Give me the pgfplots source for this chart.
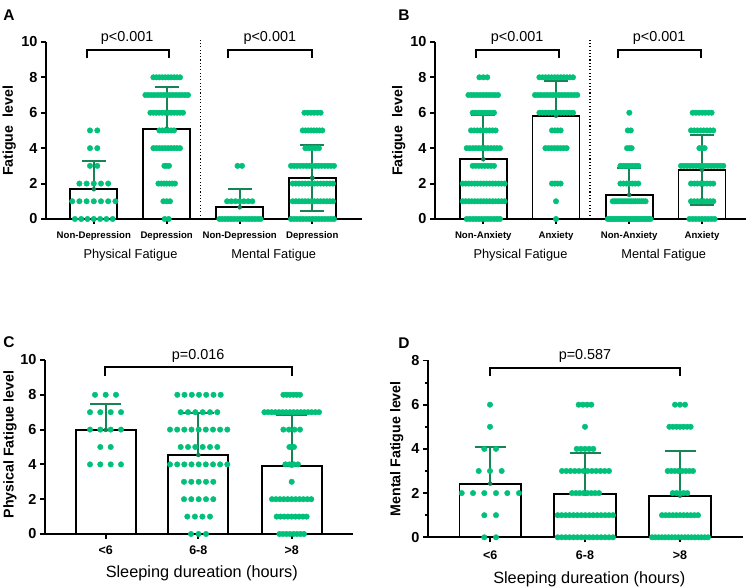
\documentclass[border=0pt]{standalone}
\usepackage{fontspec}
\setmainfont{Liberation Sans}
\usepackage{pgfplots}
\pgfplotsset{compat=1.18}
\definecolor{dotcol}{RGB}{0,192,122}
\definecolor{errcol}{RGB}{24,132,86}
\pgfplotsset{
  panel/.style={scale only axis, axis lines=left,
    axis line style={-, line width=1.9pt, black},
    tick style={line width=1.9pt, black}, tick align=outside,
    major tick length=5pt, minor tick length=3pt,
    ymin=0, clip=false,
    /pgf/number format/assume math mode=true,
    yticklabel style={font=\bfseries\fontsize{14.5}{16}\selectfont},
    xticklabel style={anchor=base}},
  dots/.style={dotcol, only marks, mark=*, mark size=2.75pt, mark options={draw=none, fill=dotcol}},
  bars/.style={ybar, bar shift=0pt, fill=white, draw=black, line width=1.9pt},
  bracket/.style={black, line width=1.8pt, mark=none, line join=miter},
  sep/.style={black, line width=1.1pt, dash pattern=on 1.1pt off 2.2pt, mark=none},
  errA/.style={errcol, only marks, mark=none, error bars/.cd, y dir=#1, y explicit,
    error bar style={errcol, line width=1.8pt},
    error mark options={errcol, line width=1.8pt, mark size=12pt, rotate=90}},
  errC/.style={errcol, only marks, mark=none, error bars/.cd, y dir=#1, y explicit,
    error bar style={errcol, line width=1.8pt},
    error mark options={errcol, line width=1.8pt, mark size=15.5pt, rotate=90}},
}
\begin{document}
\begin{tikzpicture}[x=1pt,y=1pt]
\useasboundingbox (0,0) rectangle (753,588);
% ================= Panel A =================
\begin{axis}[panel, at={(46pt,369pt)}, anchor=south west, width=316pt, height=177.1pt,
  xmin=46, xmax=362, ymax=10, ytick={0,2,...,10},
  xtick={93.8,166.7,239.7,312.3},
  xticklabels={Non-Depression,Depression,Non-Depression,Depression},
  xticklabel style={font=\bfseries\fontsize{9.6}{11}\selectfont, yshift=-14.3pt}]
\addplot[bars, bar width=47] coordinates {(93.8,1.68)(166.7,5.1)(239.7,0.66)(312.3,2.32)};
\addplot[errA=plus] coordinates {(93.8,1.68) += (0,1.59) (166.7,5.1) += (0,2.37) (239.7,0.66) += (0,1.02) (312.3,2.32) += (0,1.88)};
\addplot[errA=minus] coordinates {(312.3,2.32) -= (0,1.88)};
\addplot[dots] coordinates {
% Non-Depression physical
(90,5)(97.3,5)(90,4)(97.3,4)(90,3)(97.3,3)
(79.4,2)(86.6,2)(93.8,2)(101.0,2)(108.2,2)
(72.2,1)(79.4,1)(86.6,1)(93.8,1)(101.0,1)(108.2,1)(115.4,1)
(74.9,0)(81.2,0)(87.5,0)(93.8,0)(100.1,0)(106.4,0)(112.7,0)
% Depression physical
(153.4,8)(156.4,8)(159.3,8)(162.3,8)(165.2,8)(168.2,8)(171.1,8)(174.1,8)(177.0,8)(180.0,8)
(145.4,7)(148.4,7)(151.5,7)(154.5,7)(157.6,7)(160.6,7)(163.7,7)(166.7,7)(169.7,7)(172.8,7)(175.8,7)(178.9,7)(181.9,7)(185.0,7)(188.0,7)
(150.4,6)(153.4,6)(156.3,6)(159.3,6)(162.3,6)(165.2,6)(168.2,6)(171.1,6)(174.1,6)(177.1,6)(180.0,6)(183.0,6)
(159.4,5)(162.3,5)(165.2,5)(168.2,5)(171.1,5)(174.0,5)
(153.4,4)(156.4,4)(159.3,4)(162.3,4)(165.2,4)(168.2,4)(171.1,4)(174.1,4)(177.0,4)(180.0,4)
(164.4,3)(166.7,3)(169.0,3)
(158.4,2)(161.2,2)(163.9,2)(166.7,2)(169.5,2)(172.2,2)(175.0,2)
(163.4,1)(166.7,1)(170.0,1)
(164.7,0)(168.7,0)
% Non-Depression mental
(237.5,3)(242,3)
(227.1,1)(231.3,1)(235.5,1)(239.7,1)(243.9,1)(248.1,1)(252.3,1)
(219.4,0)(222.3,0)(225.3,0)(228.2,0)(231.2,0)(234.1,0)(237.1,0)(240.0,0)(242.9,0)(245.9,0)(248.8,0)(251.8,0)(254.7,0)(257.7,0)(260.6,0)
% Depression mental
(304.4,6)(307.6,6)(310.9,6)(314.1,6)(317.4,6)(320.6,6)
(302.7,5)(305.5,5)(308.3,5)(311.1,5)(313.9,5)(316.7,5)(319.5,5)(322.3,5)
(305.4,4)(308.8,4)(312.2,4)(315.6,4)(319.0,4)
(291.0,3)(294.1,3)(297.1,3)(300.2,3)(303.3,3)(306.4,3)(309.4,3)(312.5,3)(315.6,3)(318.6,3)(321.7,3)(324.8,3)(327.9,3)(330.9,3)(334.0,3)
(292.7,2)(295.8,2)(298.9,2)(302.0,2)(305.1,2)(308.2,2)(311.3,2)(314.4,2)(317.5,2)(320.6,2)(323.7,2)(326.8,2)(329.9,2)(333.0,2)
(292.7,1)(295.8,1)(298.9,1)(302.0,1)(305.1,1)(308.2,1)(311.3,1)(314.4,1)(317.5,1)(320.6,1)(323.7,1)(326.8,1)(329.9,1)(333.0,1)
(291.0,0)(294.1,0)(297.1,0)(300.2,0)(303.3,0)(306.4,0)(309.4,0)(312.5,0)(315.6,0)(318.6,0)(321.7,0)(324.8,0)(327.9,0)(330.9,0)(334.0,0)
};
\addplot[sep] coordinates {(200.7,0)(200.7,10.1)};
\addplot[bracket] coordinates {(86.7,9.07)(86.7,9.54)(169.3,9.54)(169.3,9.07)};
\addplot[bracket] coordinates {(228.3,9.07)(228.3,9.54)(311.7,9.54)(311.7,9.07)};
\end{axis}
% ================= Panel B =================
\begin{axis}[panel, at={(435pt,369pt)}, anchor=south west, width=311pt, height=177.1pt,
  xmin=435, xmax=746, ymax=10, ytick={0,2,...,10},
  xtick={483.3,556,629.2,702},
  xticklabels={Non-Anxiety,Anxiety,Non-Anxiety,Anxiety},
  xticklabel style={font=\bfseries\fontsize{9.6}{11}\selectfont, yshift=-14.3pt}]
\addplot[bars, bar width=47] coordinates {(483.3,3.37)(556,5.83)(629.2,1.36)(702,2.78)};
\addplot[errA=plus] coordinates {(483.3,3.37) += (0,2.47) (556,5.83) += (0,1.98) (629.2,1.36) += (0,1.5) (702,2.78) += (0,1.97)};
\addplot[errA=minus] coordinates {(702,2.78) -= (0,1.97)};
\addplot[dots] coordinates {
% Non-Anxiety physical
(479.4,8)(483.3,8)(487.3,8)
(468.4,7)(471.4,7)(474.3,7)(477.3,7)(480.2,7)(483.2,7)(486.2,7)(489.1,7)(492.1,7)(495.0,7)(498.0,7)
(472.7,6)(475.7,6)(478.8,6)(481.8,6)(484.9,6)(487.9,6)(491.0,6)(494.0,6)
(471.0,5)(474.1,5)(477.2,5)(480.2,5)(483.3,5)(486.4,5)(489.5,5)(492.5,5)(495.6,5)
(466.7,4)(469.7,4)(472.8,4)(475.8,4)(478.8,4)(481.8,4)(484.9,4)(487.9,4)(490.9,4)(494.0,4)(497.0,4)(500.0,4)
(472.7,3)(475.7,3)(478.8,3)(481.8,3)(484.9,3)(487.9,3)(491.0,3)(494.0,3)
(462.7,2)(465.7,2)(468.7,2)(471.7,2)(474.7,2)(477.7,2)(480.7,2)(483.7,2)(486.6,2)(489.6,2)(492.6,2)(495.6,2)(498.6,2)(501.6,2)(504.6,2)
(462.7,1)(465.7,1)(468.7,1)(471.7,1)(474.7,1)(477.7,1)(480.7,1)(483.7,1)(486.6,1)(489.6,1)(492.6,1)(495.6,1)(498.6,1)(501.6,1)(504.6,1)
(466.7,0)(469.7,0)(472.8,0)(475.8,0)(478.8,0)(481.8,0)(484.9,0)(487.9,0)(490.9,0)(494.0,0)(497.0,0)(500.0,0)
% Anxiety physical
(539.4,8)(542.5,8)(545.5,8)(548.6,8)(551.6,8)(554.7,8)(557.7,8)(560.8,8)(563.8,8)(566.9,8)(569.9,8)(573.0,8)
(535.0,7)(538.0,7)(541.0,7)(544.1,7)(547.1,7)(550.1,7)(553.1,7)(556.2,7)(559.2,7)(562.2,7)(565.2,7)(568.2,7)(571.3,7)(574.3,7)(577.3,7)
(539.4,6)(542.5,6)(545.5,6)(548.6,6)(551.6,6)(554.7,6)(557.7,6)(560.8,6)(563.8,6)(566.9,6)(569.9,6)(573.0,6)
(552.0,5)(554.9,5)(557.7,5)(560.6,5)
(545.4,4)(548.4,4)(551.5,4)(554.5,4)(557.5,4)(560.5,4)(563.6,4)(566.6,4)
(552.0,2)(554.9,2)(557.7,2)(560.6,2)
(556,1)(556,0)
% Non-Anxiety mental
(629.3,6)(627.8,5)(630.8,5)(627,4)(629.3,4)(631.6,4)
(620.4,3)(623.4,3)(626.4,3)(629.4,3)(632.3,3)(635.3,3)(638.3,3)
(620.4,2)(623.4,2)(626.4,2)(629.4,2)(632.3,2)(635.3,2)(638.3,2)
(612.7,1)(614.8,1)(616.8,1)(618.9,1)(620.9,1)(623.0,1)(625.0,1)(627.1,1)(629.2,1)(631.2,1)(633.3,1)(635.3,1)(637.4,1)(639.4,1)(641.5,1)(643.5,1)(645.6,1)
(607.7,0)(609.7,0)(611.8,0)(613.8,0)(615.9,0)(617.9,0)(620.0,0)(622.0,0)(624.0,0)(626.1,0)(628.1,0)(630.2,0)(632.2,0)(634.3,0)(636.3,0)(638.3,0)(640.4,0)(642.4,0)(644.5,0)(646.5,0)(648.6,0)(650.6,0)
% Anxiety mental
(692.7,6)(695.9,6)(699.0,6)(702.2,6)(705.3,6)(708.5,6)(711.6,6)
(691.0,5)(694.2,5)(697.4,5)(700.6,5)(703.7,5)(706.9,5)(710.1,5)(713.3,5)
(699.4,4)(702,4)(704.6,4)
(681.0,3)(684.0,3)(687.0,3)(690.1,3)(693.1,3)(696.1,3)(699.1,3)(702.2,3)(705.2,3)(708.2,3)(711.2,3)(714.2,3)(717.3,3)(720.3,3)(723.3,3)
(691.0,2)(694.2,2)(697.4,2)(700.6,2)(703.7,2)(706.9,2)(710.1,2)(713.3,2)
(691.0,1)(694.2,1)(697.4,1)(700.6,1)(703.7,1)(706.9,1)(710.1,1)(713.3,1)
(689.4,0)(692.6,0)(695.7,0)(698.9,0)(702.0,0)(705.2,0)(708.3,0)(711.5,0)(714.6,0)
};
\addplot[sep] coordinates {(590,0)(590,10.1)};
\addplot[bracket] coordinates {(476,9.07)(476,9.54)(559.3,9.54)(559.3,9.07)};
\addplot[bracket] coordinates {(617.7,9.07)(617.7,9.54)(701,9.54)(701,9.07)};
\end{axis}
% ================= Panel C =================
\begin{axis}[panel, at={(45pt,54pt)}, anchor=south west, width=308pt, height=174pt,
  xmin=45, xmax=353, ymax=10, ytick={0,2,...,10},
  xtick={105.8,198.3,291.7}, xticklabels={<6,6-8,>8},
  xticklabel style={font=\bfseries\fontsize{12.5}{14}\selectfont, yshift=-15.7pt}]
\addplot[bars, bar width=60] coordinates {(105.8,5.98)(198.3,4.54)(291.7,3.93)};
\addplot[errC=plus] coordinates {(105.8,5.98) += (0,1.49) (198.3,4.54) += (0,2.43) (291.7,3.93) += (0,2.91)};
\addplot[dots] coordinates {
% <6
(95,8)(105.7,8)(116,8)
(90,7)(100.3,7)(110.7,7)(121,7)
(90,6)(100.3,6)(110.7,6)(121,6)
(100.3,5)(110.7,5)
(90,4)(100.3,4)(110.7,4)(121,4)
% 6-8
(177.3,8)(184.5,8)(191.8,8)(199.0,8)(206.2,8)(213.5,8)(220.7,8)
(180.7,7)(188.0,7)(195.3,7)(202.7,7)(210.0,7)(217.3,7)
(170.0,6)(177.2,6)(184.3,6)(191.5,6)(198.7,6)(205.8,6)(213.0,6)(220.1,6)(227.3,6)
(180.7,5)(188.0,5)(195.3,5)(202.7,5)(210.0,5)(217.3,5)
(170.0,4)(177.2,4)(184.3,4)(191.5,4)(198.7,4)(205.8,4)(213.0,4)(220.1,4)(227.3,4)
(184.0,3)(191.3,3)(198.7,3)(206.0,3)(213.3,3)
(184.0,2)(191.3,2)(198.7,2)(206.0,2)(213.3,2)
(187.3,1)(194.9,1)(202.4,1)(210.0,1)
(191,0)(198.5,0)(206,0)
% >8
(283.4,8)(286.7,8)(290.0,8)(293.4,8)(296.7,8)(300.0,8)
(264.4,7)(268.0,7)(271.7,7)(275.3,7)(279.0,7)(282.6,7)(286.2,7)(289.9,7)(293.5,7)(297.2,7)(300.8,7)(304.4,7)(308.1,7)(311.7,7)(315.4,7)(319.0,7)
(283.4,6)(288.9,6)(294.5,6)(300.0,6)
(289.4,5)(291.7,5)(294.0,5)
(285.4,4)(289.6,4)(293.8,4)(298.0,4)
(291.7,3)
(272.0,2)(275.9,2)(279.9,2)(283.8,2)(287.7,2)(291.7,2)(295.6,2)(299.5,2)(303.4,2)(307.4,2)(311.3,2)
(276.7,1)(280.4,1)(284.2,1)(287.9,1)(291.7,1)(295.4,1)(299.1,1)(302.9,1)(306.6,1)
(279.4,0)(282.9,0)(286.4,0)(289.9,0)(293.5,0)(297.0,0)(300.5,0)(304.0,0)
};
\addplot[bracket] coordinates {(105.3,9.10)(105.3,9.58)(291.7,9.58)(291.7,9.10)};
\end{axis}
% ================= Panel D =================
\begin{axis}[panel, at={(428pt,50.7pt)}, anchor=south west, width=315pt, height=176.8pt,
  xmin=428, xmax=743, ymax=8, ytick={0,2,...,8}, minor ytick={1,3,5,7},
  xtick={490.2,585,680}, xticklabels={<6,6-8,>8},
  xticklabel style={font=\bfseries\fontsize{12.5}{14}\selectfont, yshift=-17.7pt}]
\addplot[bars, bar width=61.5] coordinates {(490.2,2.43)(585,1.96)(680,1.88)};
\addplot[errC=plus] coordinates {(490.2,2.43) += (0,1.66) (585,1.96) += (0,1.84) (680,1.88) += (0,2.04)};
\addplot[dots] coordinates {
% <6
(490,6)(490,5)(484.3,4)(496,4)(478.7,3)(490,3)(501.7,3)
(461.7,2)(473,2)(484.3,2)(496,2)(507.3,2)(519,2)
(484.3,1)(496,1)(484.3,0)(496,0)
% 6-8
(578.7,6)(582.9,6)(587.1,6)(591.3,6)
(585,5)
(576.7,4)(580.8,4)(585.0,4)(589.2,4)(593.3,4)
(562.0,3)(566.3,3)(570.5,3)(574.8,3)(579.1,3)(583.4,3)(587.6,3)(591.9,3)(596.2,3)(600.5,3)(604.7,3)(609.0,3)
(572.0,2)(575.9,2)(579.7,2)(583.6,2)(587.4,2)(591.3,2)(595.1,2)(599.0,2)
(557.7,1)(561.6,1)(565.6,1)(569.5,1)(573.5,1)(577.4,1)(581.4,1)(585.3,1)(589.3,1)(593.2,1)(597.2,1)(601.1,1)(605.1,1)(609.0,1)(613.0,1)
(557.7,0)(561.6,0)(565.6,0)(569.5,0)(573.5,0)(577.4,0)(581.4,0)(585.3,0)(589.3,0)(593.2,0)(597.2,0)(601.1,0)(605.1,0)(609.0,0)(613.0,0)
% >8
(675,6)(680,6)(685,6)
(669.4,5)(672.9,5)(676.5,5)(680.0,5)(683.5,5)(687.1,5)(690.6,5)
(667.7,3)(671.3,3)(674.9,3)(678.5,3)(682.2,3)(685.8,3)(689.4,3)(693.0,3)
(672.7,2)(676.4,2)(680.0,2)(683.6,2)(687.3,2)
(662.0,1)(665.6,1)(669.2,1)(672.8,1)(676.4,1)(680.0,1)(683.6,1)(687.2,1)(690.8,1)(694.4,1)(698.0,1)
(652.0,0)(655.3,0)(658.6,0)(661.9,0)(665.2,0)(668.5,0)(671.8,0)(675.1,0)(678.4,0)(681.6,0)(684.9,0)(688.2,0)(691.5,0)(694.8,0)(698.1,0)(701.4,0)(704.7,0)(708.0,0)
};
\addplot[bracket] coordinates {(490.3,7.29)(490.3,7.67)(680,7.67)(680,7.29)};
\end{axis}
% ================= Texts =================
\node[font=\bfseries\fontsize{15.5}{17}\selectfont] at (9,573) {A};
\node[font=\bfseries\fontsize{15.5}{17}\selectfont] at (404,573) {B};
\node[font=\bfseries\fontsize{15.5}{17}\selectfont] at (9,246) {C};
\node[font=\bfseries\fontsize{15.5}{17}\selectfont] at (404,245) {D};
\node[rotate=90, font=\bfseries\fontsize{14.2}{16}\selectfont] at (9.3,457) {Fatigue\ \ level};
\node[rotate=90, font=\bfseries\fontsize{14.2}{16}\selectfont] at (398.7,457) {Fatigue\ \ level};
\node[rotate=90, font=\bfseries\fontsize{14.2}{16}\selectfont] at (10,143.5) {Physical Fatigue level};
\node[rotate=90, font=\bfseries\fontsize{14.2}{16}\selectfont] at (396.7,139.2) {Mental Fatigue level};
\node[anchor=base, font=\fontsize{14.4}{16}\selectfont] at (127.2,546.3) {p<0.001};
\node[anchor=base, font=\fontsize{14.4}{16}\selectfont] at (269.8,546.3) {p<0.001};
\node[anchor=base, font=\fontsize{14.4}{16}\selectfont] at (517.2,546.3) {p<0.001};
\node[anchor=base, font=\fontsize{14.4}{16}\selectfont] at (659.2,546.3) {p<0.001};
\node[anchor=base, font=\fontsize{14.4}{16}\selectfont] at (198.2,228.5) {p=0.016};
\node[anchor=base, font=\fontsize{14.4}{16}\selectfont] at (585,228.5) {p=0.587};
\node[anchor=base, font=\fontsize{12.8}{15}\selectfont] at (130.5,329.7) {Physical Fatigue};
\node[anchor=base, font=\fontsize{12.8}{15}\selectfont] at (273.8,329.7) {Mental Fatigue};
\node[anchor=base, font=\fontsize{12.8}{15}\selectfont] at (520.5,329.7) {Physical Fatigue};
\node[anchor=base, font=\fontsize{12.8}{15}\selectfont] at (663.7,329.7) {Mental Fatigue};
\node[anchor=base, font=\fontsize{16.3}{18}\selectfont] at (201.8,10.3) {Sleeping dureation (hours)};
\node[anchor=base, font=\fontsize{16.3}{18}\selectfont] at (589.3,4.7) {Sleeping dureation (hours)};
\end{tikzpicture}
\end{document}
